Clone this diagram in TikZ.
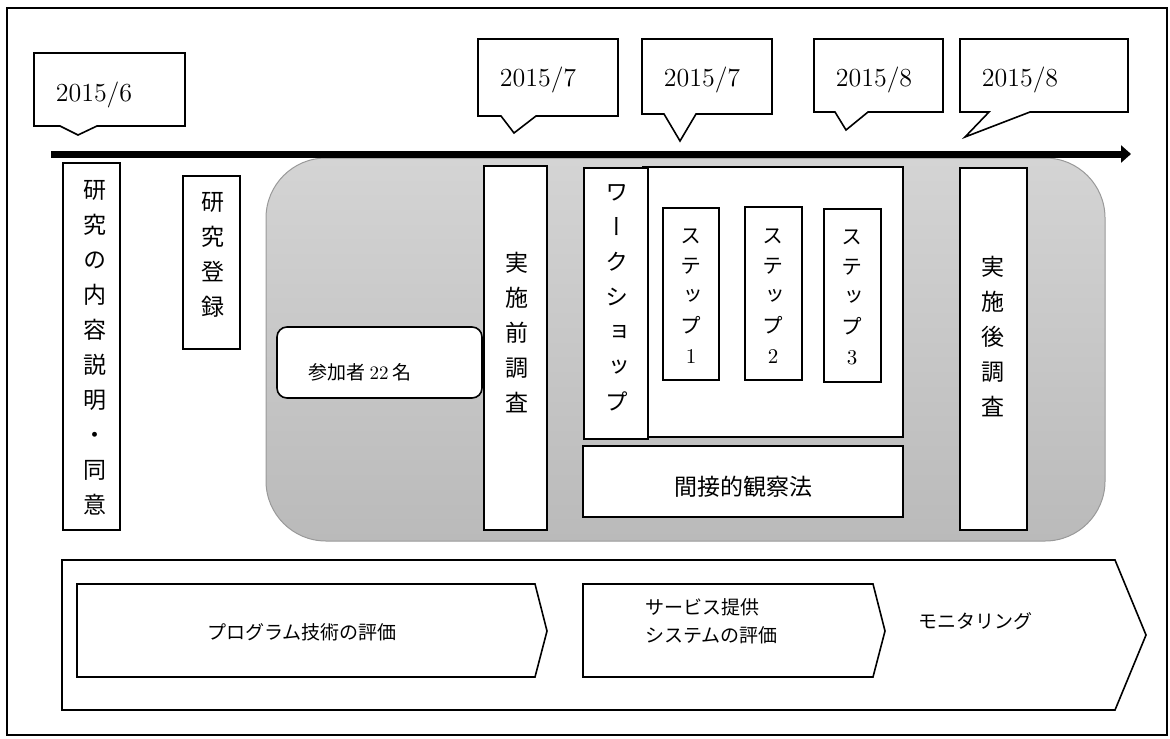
\documentclass[tikz,border=0pt]{standalone}
\usepackage{fontspec}
\newfontfamily\cjk{Noto Sans CJK JP}
\newfontfamily\cjkv[RawFeature=+vert]{Noto Sans CJK JP}
\usetikzlibrary{arrows.meta}
\definecolor{graytop}{RGB}{212,212,212}
\definecolor{graybot}{RGB}{186,186,186}
\begin{document}
\begin{tikzpicture}[x=0.5pt,y=-0.5pt,
  frame/.style={draw=black, line width=0.6pt},
  box/.style={draw=black, line width=0.8pt, fill=white},
  vtext/.style={font=\cjkv\fontsize{11.5}{17.5}\selectfont, align=center, inner sep=0pt},
  stext/.style={font=\cjkv\fontsize{10.5}{15}\selectfont, align=center, inner sep=0pt},
  htext/.style={font=\cjk\fontsize{11.5}{14}\selectfont, inner sep=0pt},
  btext/.style={font=\cjk\fontsize{9.5}{14}\selectfont, inner sep=0pt, align=left},
  datetext/.style={font=\fontsize{13}{15}\selectfont, inner sep=0pt}]
\useasboundingbox (0,0) rectangle (1170,738);
% outer frame
\draw[frame] (7,8) rectangle (1167,735);

% callouts
\draw[box] (34,53) -- (185,53) -- (185,126) -- (97,126) -- (78,135) -- (60,126) -- (34,126) -- cycle;
\draw[box] (478,39) -- (618,39) -- (618,116) -- (536,116) -- (514,133) -- (501,116) -- (478,116) -- cycle;
\draw[box] (642,39) -- (772,39) -- (772,114) -- (696,114) -- (680,141) -- (664,114) -- (642,114) -- cycle;
\draw[box] (814,39) -- (943,39) -- (943,112) -- (868,112) -- (846,130) -- (835,112) -- (814,112) -- cycle;
\draw[box] (960,39) -- (1128,39) -- (1128,112) -- (1030,112) -- (965,137) -- (989,112) -- (960,112) -- cycle;
\node[datetext] (d1) at (94,95) {2015/6};
\node[datetext] (d2) at (538,80) {2015/7};
\node[datetext] (d3) at (702,80) {2015/7};
\node[datetext] (d4) at (874,80) {2015/8};
\node[datetext] (d5) at (1020,80) {2015/8};

% gray region
\shade[top color=graytop, bottom color=graybot, draw=gray!80, line width=0.5pt, rounded corners=30pt] (266,158) rectangle (1105,541);

% timeline
\coordinate (t0) at (51,154);
\coordinate (t1) at (1131,154);
\draw[line width=3.5pt, -{Triangle[length=5pt,width=8.5pt]}] (t0) -- (t1);

% left boxes
\draw[box] (63,163) rectangle (120,530);
\node[vtext] (a1) at (95,348) {研\\究\\の\\内\\容\\説\\明\\・\\同\\意};
\draw[box] (183,176) rectangle (240,349);
\node[vtext] (a2) at (213,255) {研\\究\\登\\録};

% participants
\draw[box, rounded corners=5pt] (277,327) rectangle (482,398);
\node[font=\cjk\fontsize{9.5}{12}\selectfont, inner sep=0pt] (p) at (360,372) {参加者 {\rmfamily 22} 名};

% pre survey
\draw[box] (484,166) rectangle (547,530);
\node[vtext] (pre) at (517,333) {実\\施\\前\\調\\査};

% workshop
\draw[box] (643,167) rectangle (903,437);
\draw[box] (584,168) rectangle (648,439);
\node[vtext] (ws) at (617,298) {ワ\\ー\\ク\\シ\\ョ\\ッ\\プ};
\draw[box] (663,208) rectangle (719,380);
\node[stext] (s1) at (691,296) {ス\\テ\\ッ\\プ\\{\rmfamily 1}};
\draw[box] (745,207) rectangle (802,380);
\node[stext] (s2) at (773,296) {ス\\テ\\ッ\\プ\\{\rmfamily 2}};
\draw[box] (824,209) rectangle (881,382);
\node[stext] (s3) at (852,297) {ス\\テ\\ッ\\プ\\{\rmfamily 3}};

% observation
\draw[box] (583,446) rectangle (903,517);
\node[htext] (obs) at (743,487) {間接的観察法};

% post survey
\draw[box] (960,168) rectangle (1027,530);
\node[vtext] (post) at (993,337) {実\\施\\後\\調\\査};

% bottom chevrons
\draw[box] (62,560) -- (1115,560) -- (1146,635) -- (1115,710) -- (62,710) -- cycle;
\draw[box] (77,584) -- (535,584) -- (547,631) -- (535,677) -- (77,677) -- cycle;
\draw[box] (583,584) -- (873,584) -- (885,631) -- (873,677) -- (583,677) -- cycle;
\node[btext] (b1) at (302,632) {プログラム技術の評価};
\node[btext, anchor=west] (b2) at (645,621) {サービス提供\\システムの評価};
\node[btext] (b3) at (975,621) {モニタリング};
\end{tikzpicture}
\end{document}
